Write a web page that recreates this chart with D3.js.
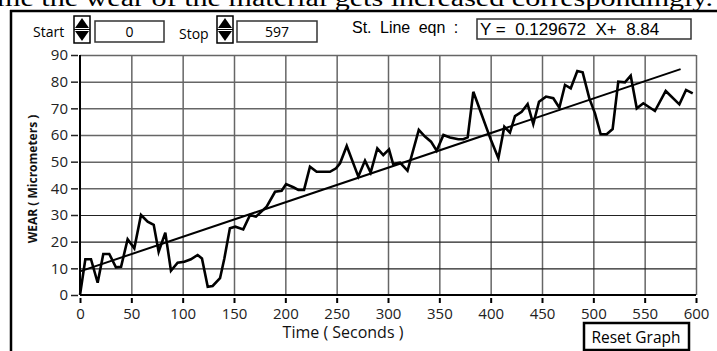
<!DOCTYPE html>
<html>
<head>
<meta charset="utf-8">
<script src="https://cdn.jsdelivr.net/npm/d3@7"></script>
<style>
  body { margin: 0; background: white; }
  text { white-space: pre; }
</style>
</head>
<body>
<div id="canvas"></div>
<script>
"use strict"

/* DATA */
let times = [0, 5.2, 10.7, 17.2, 22.7, 28.5, 35, 40, 46.4, 52.9,
  59.4, 65.9, 71.8, 76.6, 83.1, 88.6, 95.1, 101.6, 108, 114.6,
  118.8, 124.4, 129.2, 136.4, 140.6, 146, 151.3, 159, 165.6, 171.4,
  181.8, 190, 196.4, 200.7, 207.8, 212.7, 218.2, 224, 230.5, 243.5,
  249.4, 253.3, 259.8, 271.1, 277.6, 283.1, 289.6, 295.4, 301, 305,
  311.7, 319, 330, 336, 341.9, 347.4, 354, 360.4, 368.5, 373.4,
  377.6, 383.1, 389.6, 396.1, 400.3, 407.5, 413.3, 418.8, 423.7, 430.2,
  436, 441.5, 447.1, 453.9, 461, 466.9, 472.4, 478, 484.4, 489.6,
  496.1, 501.6, 507.1, 513, 518.8, 524.3, 530.8, 536.4, 542.3, 548.7,
  560, 570.5, 583.8, 590.3, 596.8];
let wear = [0, 13.4, 13.4, 4.6, 15.4, 15.4, 10.4, 10.6, 20.9, 17.5,
  30, 27.5, 26.3, 16.2, 23.4, 9.1, 12.1, 12.5, 13.4, 15,
  13.7, 3.1, 3.4, 6.3, 13.7, 25, 25.6, 24.6, 30, 29.4,
  33.1, 38.7, 39.1, 41.6, 40.4, 39.4, 39.4, 48.1, 46.2, 46.2,
  47.5, 49.4, 55.9, 44.4, 50.4, 45.9, 55, 52.5, 54.6, 49.1,
  49.6, 46.6, 61.9, 59.4, 57.5, 54.1, 60, 59.1, 58.4, 58.4,
  59.1, 76.2, 69.4, 62.5, 58.1, 51.3, 63.1, 60.9, 67.1, 68.7,
  71.6, 64.1, 72.5, 74.4, 73.8, 70.2, 78.75, 77.5, 84, 83.5,
  73.75, 68.1, 60.3, 60.3, 62.25, 80, 79.75, 82.25, 70, 71.9,
  69, 76.5, 71.5, 76.9, 75.6];

let slope = 0.129672;
let intercept = 8.84;
let fitX = [0, 585];

let xTicks = [0, 50, 100, 150, 200, 250, 300, 350, 400, 450, 500, 550, 600];
let yTicks = [0, 10, 20, 30, 40, 50, 60, 70, 80, 90];

let startValue = "0";
let stopValue = "597";
let eqnText = "Y =  0.129672  X+  8.84";

/* Configuration variables: drawing */
let svgWidth = 717;
let svgHeight = 351;

let plotLeft = 80;
let plotRight = 696;
let plotTop = 55;
let plotBottom = 295;

let uiFont = "'Open Sans', 'DejaVu Sans', sans-serif";
let arial = "'Liberation Sans', Arial, sans-serif";

let svg = d3.select("#canvas")
  .append("svg")
  .attr("width", svgWidth)
  .attr("height", svgHeight);

// cut-off sentence from the page above
svg.append("text")
  .attr("x", -3)
  .attr("y", 6)
  .attr("textLength", 716)
  .attr("lengthAdjust", "spacingAndGlyphs")
  .style("font-family", "'Liberation Serif', 'Times New Roman', serif")
  .style("font-size", "24px")
  .text("me the wear of the material gets increased correspondingly.");

// outer frame (top and left only)
svg.append("line")
  .attr("x1", 10).attr("y1", 11)
  .attr("x2", svgWidth).attr("y2", 11)
  .attr("stroke", "black")
  .attr("stroke-width", 2.5);

svg.append("line")
  .attr("x1", 11).attr("y1", 10)
  .attr("x2", 11).attr("y2", svgHeight)
  .attr("stroke", "black")
  .attr("stroke-width", 2.5);

// scales
let xScale = d3.scaleLinear()
  .domain([0, 600])
  .range([plotLeft, plotRight]);

let yScale = d3.scaleLinear()
  .domain([0, 90])
  .range([plotBottom, plotTop]);

// GRID
svg.append("g")
  .attr("transform", "translate(0," + plotBottom + ")")
  .call(d3.axisBottom(xScale).tickValues(xTicks.slice(1)).tickSize(-(plotBottom - plotTop)).tickFormat(""))
  .call(g => g.select(".domain").remove())
  .selectAll("line")
  .attr("stroke", "#666")
  .attr("stroke-width", 1.5);

svg.append("g")
  .attr("transform", "translate(" + plotLeft + ",0)")
  .call(d3.axisLeft(yScale).tickValues(yTicks.slice(1)).tickSize(-(plotRight - plotLeft)).tickFormat(""))
  .call(g => g.select(".domain").remove())
  .selectAll("line")
  .attr("stroke", function (d) { return d <= 30 ? "#222" : "#666" })
  .attr("stroke-width", function (d) { return d <= 30 ? 1.2 : 1.5 });

// AXES
let xAxis = svg.append("g")
  .attr("transform", "translate(0," + (plotBottom + 3) + ")")
  .call(d3.axisBottom(xScale).tickValues(xTicks).tickSize(5).tickPadding(5));
xAxis.select(".domain").remove();
xAxis.selectAll("line").attr("stroke", "black").attr("stroke-width", 2);
xAxis.selectAll("text")
  .style("font-family", uiFont)
  .style("font-size", "15px")
  .attr("fill", "#222");

let yAxis = svg.append("g")
  .attr("transform", "translate(" + (plotLeft - 2) + ",0)")
  .call(d3.axisLeft(yScale).tickValues(yTicks).tickSize(7).tickPadding(3));
yAxis.select(".domain").remove();
yAxis.selectAll("line").attr("stroke", "#222").attr("stroke-width", 1.5);
yAxis.selectAll("text")
  .style("font-family", uiFont)
  .style("font-size", "15px")
  .attr("fill", "#222");

// plot border lines
svg.append("line")
  .attr("x1", plotLeft).attr("y1", plotBottom)
  .attr("x2", plotRight).attr("y2", plotBottom)
  .attr("stroke", "black").attr("stroke-width", 2);

svg.append("line")
  .attr("x1", plotLeft).attr("y1", plotTop)
  .attr("x2", plotLeft).attr("y2", plotBottom)
  .attr("stroke", "black").attr("stroke-width", 2);

// fitted straight line
let fitLine = d3.line()
  .x(function (d) { return xScale(d) })
  .y(function (d) { return yScale(slope * d + intercept) });

svg.append("path")
  .datum(fitX)
  .attr("d", fitLine)
  .attr("fill", "none")
  .attr("stroke", "black")
  .attr("stroke-width", 2);

// wear curve
let wearLine = d3.line()
  .x(function (d, i) { return xScale(times[i]) })
  .y(function (d) { return yScale(d) });

svg.append("path")
  .datum(wear)
  .attr("d", wearLine)
  .attr("fill", "none")
  .attr("stroke", "black")
  .attr("stroke-width", 2.6)
  .attr("stroke-linejoin", "miter");

// AXIS LABELS
svg.append("text")
  .attr("x", 343)
  .attr("y", 338)
  .style("text-anchor", "middle")
  .style("font-family", uiFont)
  .style("font-size", "16px")
  .attr("fill", "#111")
  .text("Time ( Seconds )");

svg.append("text")
  .attr("transform", "translate(37,179) rotate(-90)")
  .style("text-anchor", "middle")
  .style("font-family", uiFont)
  .style("font-weight", "bold")
  .style("font-size", "12px")
  .attr("fill", "#111")
  .text("WEAR ( Micrometers )");

// CONTROLS
function spinner(x, y) {
  let g = svg.append("g").attr("transform", "translate(" + x + "," + y + ")");
  g.append("rect")
    .attr("x", 0).attr("y", 0)
    .attr("width", 16).attr("height", 27)
    .attr("fill", "white")
    .attr("stroke", "black")
    .attr("stroke-width", 1.5);
  g.append("path")
    .attr("d", "M1,12 L8,2 L15,12 Z")
    .attr("fill", "black");
  g.append("path")
    .attr("d", "M1,15 L8,25 L15,15 Z")
    .attr("fill", "black");
  g.append("line")
    .attr("x1", 0).attr("y1", 13.5)
    .attr("x2", 16).attr("y2", 13.5)
    .attr("stroke", "black")
    .attr("stroke-width", 1);
}

function valueBox(x, y, w, h, txt) {
  svg.append("rect")
    .attr("x", x).attr("y", y)
    .attr("width", w).attr("height", h)
    .attr("fill", "white")
    .attr("stroke", "#333")
    .attr("stroke-width", 1.5);
  svg.append("text")
    .attr("x", x + w / 2)
    .attr("y", y + 16)
    .style("text-anchor", "middle")
    .style("font-family", uiFont)
    .style("font-size", "14px")
    .text(txt);
}

svg.append("text")
  .attr("x", 33).attr("y", 37)
  .style("font-family", uiFont)
  .style("font-size", "14px")
  .text("Start");
spinner(74, 16);
valueBox(95, 21, 69, 21, startValue);

svg.append("text")
  .attr("x", 179).attr("y", 39)
  .style("font-family", uiFont)
  .style("font-size", "14px")
  .text("Stop");
spinner(217, 16);
valueBox(237, 21, 80, 21, stopValue);

svg.append("text")
  .attr("x", 352).attr("y", 33)
  .style("font-family", arial)
  .style("font-size", "16px")
  .style("word-spacing", "4px")
  .text("St. Line eqn :");

svg.append("rect")
  .attr("x", 477).attr("y", 19)
  .attr("width", 214).attr("height", 20)
  .attr("fill", "white")
  .attr("stroke", "#333")
  .attr("stroke-width", 1.5);

svg.append("text")
  .attr("x", 480).attr("y", 35)
  .style("font-family", arial)
  .style("font-size", "17px")
  .text(eqnText);

// Reset Graph button
svg.append("rect")
  .attr("x", 584).attr("y", 323)
  .attr("width", 105).attr("height", 27)
  .attr("fill", "white")
  .attr("stroke", "black")
  .attr("stroke-width", 2.5);

svg.append("text")
  .attr("x", 636).attr("y", 343)
  .style("text-anchor", "middle")
  .style("font-family", uiFont)
  .style("font-size", "15.5px")
  .text("Reset Graph");
</script>
</body>
</html>
